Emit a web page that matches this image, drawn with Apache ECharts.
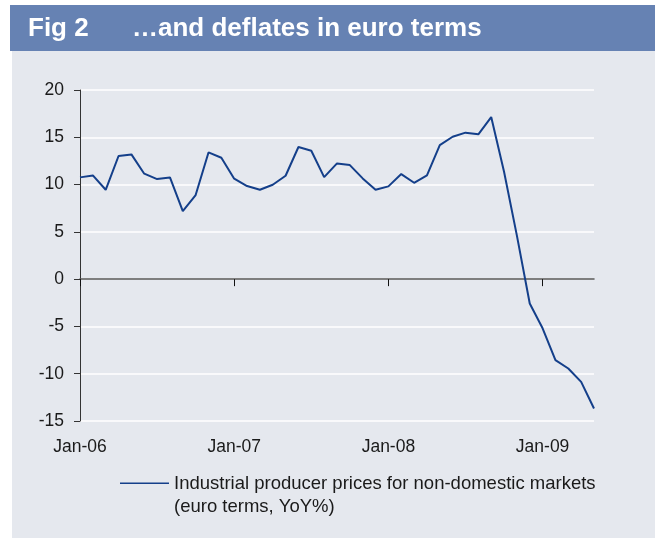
<!DOCTYPE html>
<html>
<head>
<meta charset="utf-8">
<script src="https://cdn.jsdelivr.net/npm/echarts@6/dist/echarts.min.js"></script>
<style>
html,body{margin:0;padding:0;background:#ffffff;}
#chart{width:661px;height:539px;}
</style>
</head>
<body>
<div id="chart"></div>
<script>
var categories = [
  'Jan-06','Feb-06','Mar-06','Apr-06','May-06','Jun-06','Jul-06','Aug-06','Sep-06','Oct-06','Nov-06','Dec-06',
  'Jan-07','Feb-07','Mar-07','Apr-07','May-07','Jun-07','Jul-07','Aug-07','Sep-07','Oct-07','Nov-07','Dec-07',
  'Jan-08','Feb-08','Mar-08','Apr-08','May-08','Jun-08','Jul-08','Aug-08','Sep-08','Oct-08','Nov-08','Dec-08',
  'Jan-09','Feb-09','Mar-09','Apr-09','May-09'
];
var ppiValues = [
  10.76, 10.97, 9.45, 13.02, 13.19, 11.15, 10.58, 10.76, 7.20, 8.89, 13.40, 12.84,
  10.62, 9.84, 9.45, 9.98, 10.93, 13.97, 13.58, 10.79, 12.24, 12.06, 10.65, 9.45,
  9.81, 11.11, 10.19, 10.97, 14.18, 15.06, 15.49, 15.31, 17.14, 11.35, 4.6, -2.57,
  -5.2, -8.56, -9.45, -10.86, -13.68
];
var seriesName = 'Industrial producer prices for non-domestic markets\n(euro terms, YoY%)';
var figLabel = 'Fig 2';
var figTitle = '\u2026and deflates in euro terms';
var yMin = -15, yMax = 20, yStep = 5;

var FONT = '"Liberation Sans", Arial, sans-serif';
var lineColor = '#143f8a';

var chart = echarts.init(document.getElementById('chart'), null, {renderer: 'canvas'});
chart.setOption({
  backgroundColor: '#ffffff',
  animation: false,
  graphic: [
    {type: 'rect', z: -10, shape: {x: 10, y: 5, width: 645, height: 46}, style: {fill: '#6682b3'}},
    {type: 'rect', z: -10, shape: {x: 12, y: 51, width: 643, height: 487}, style: {fill: '#e5e8ee'}}
  ],
  title: {
    left: 28, top: 14, padding: 0,
    text: '{a|' + figLabel + '}{b|' + figTitle + '}',
    textStyle: {
      rich: {
        a: {width: 104, fontFamily: FONT, fontWeight: 'bold', fontSize: 26, color: '#ffffff', lineHeight: 30},
        b: {fontFamily: FONT, fontWeight: 'bold', fontSize: 26, color: '#ffffff', lineHeight: 30}
      }
    }
  },
  legend: {
    left: 120, top: 472, padding: 0,
    itemWidth: 49, itemHeight: 46,
    icon: 'path://M0,10.6H49V12.1H0Z M0,0H0.01V0.01H0Z M0,46H0.01V46.01H0Z',
    itemStyle: {color: lineColor, borderWidth: 0},
    textStyle: {fontFamily: FONT, fontSize: 18.5, color: '#1a1a1a', lineHeight: 23},
    data: [seriesName]
  },
  grid: {left: 80, right: 67, top: 90, bottom: 118, containLabel: false},
  xAxis: [
    {
      type: 'category', data: categories, boundaryGap: false, position: 'bottom',
      axisLine: {show: false, onZero: false},
      axisTick: {show: false},
      splitLine: {show: false},
      axisLabel: {interval: 11, margin: 17, fontFamily: FONT, fontSize: 17.5, color: '#1a1a1a'}
    },
    {
      type: 'category', data: categories, boundaryGap: false, position: 'top',
      axisLine: {show: true, onZero: true, lineStyle: {color: '#555555', width: 1.5}},
      axisTick: {show: true, interval: 11, inside: true, length: 7, lineStyle: {color: '#111111', width: 1}},
      axisLabel: {show: false},
      splitLine: {show: false}
    }
  ],
  yAxis: {
    type: 'value', min: yMin, max: yMax, interval: yStep,
    axisLine: {show: true, onZero: false, lineStyle: {color: '#333333', width: 1}},
    axisTick: {show: true, length: 6, lineStyle: {color: '#333333', width: 1}},
    axisLabel: {margin: 16, fontFamily: FONT, fontSize: 17.5, color: '#1a1a1a'},
    splitLine: {show: true, lineStyle: {color: '#ffffff', width: 1.5}}
  },
  series: [{
    name: seriesName,
    type: 'line',
    xAxisIndex: 0,
    data: ppiValues,
    symbol: 'none',
    lineStyle: {color: lineColor, width: 2},
    itemStyle: {color: lineColor},
    z: 5
  }]
});
</script>
</body>
</html>
